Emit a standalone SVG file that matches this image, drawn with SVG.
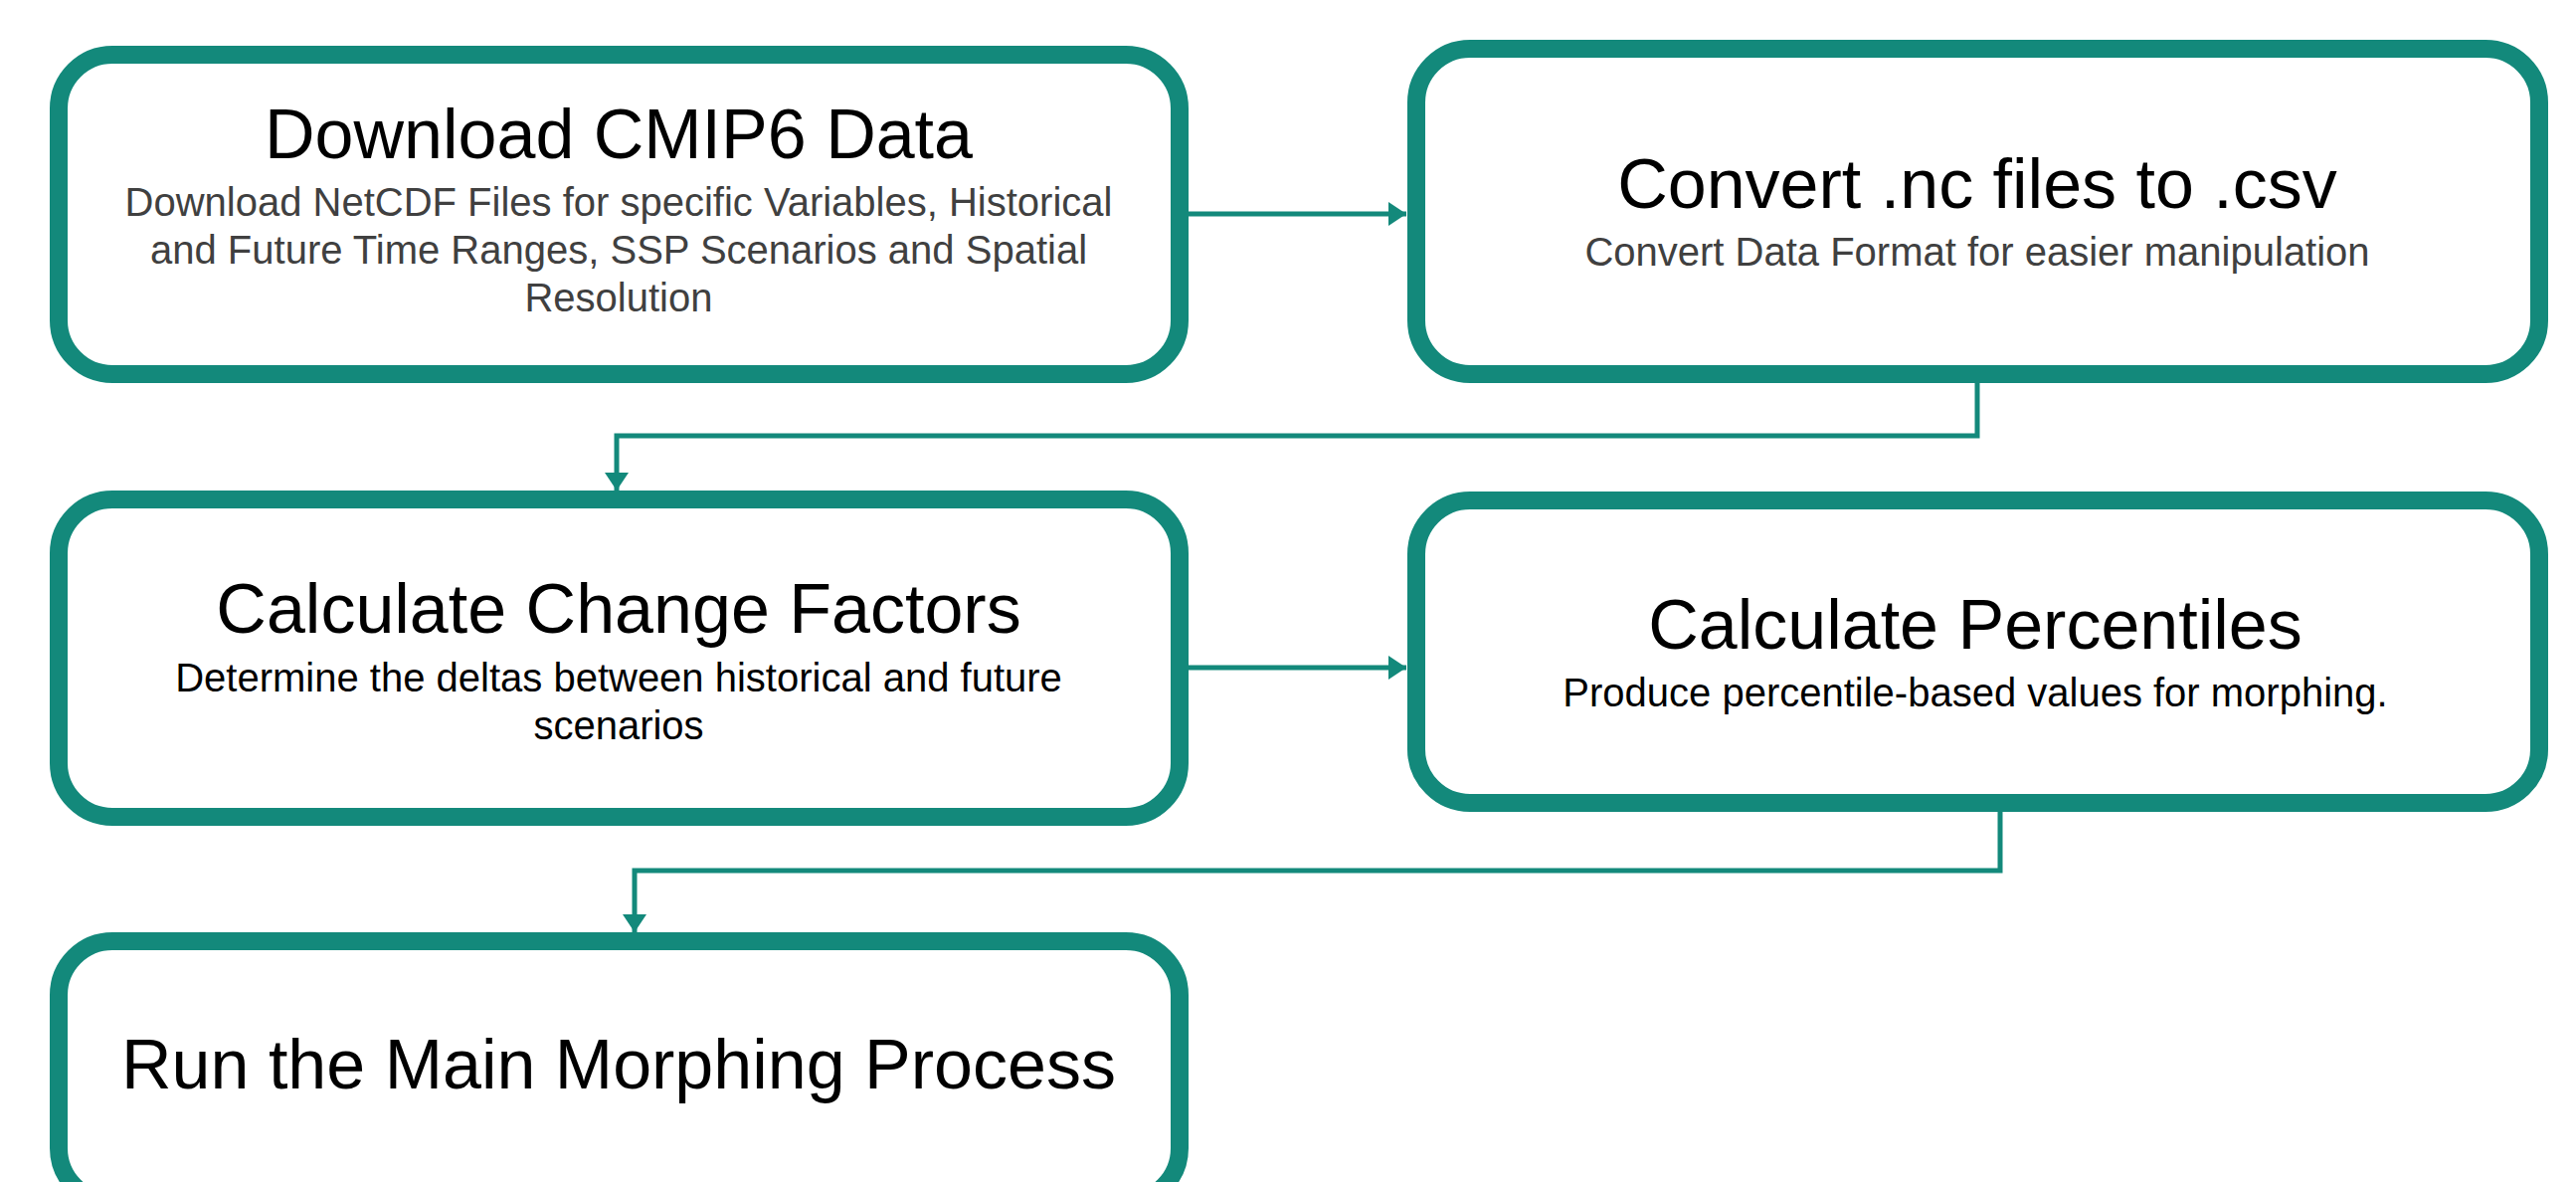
<svg xmlns="http://www.w3.org/2000/svg" width="2590" height="1188" viewBox="0 0 2590 1188">
  <style>
    .box { fill: #ffffff; stroke: #13897B; stroke-width: 18; }
    .title { font-family: "Liberation Sans", Arial, sans-serif; font-size: 70px; fill: #000000; text-anchor: middle; }
    .sub { font-family: "Liberation Sans", Arial, sans-serif; font-size: 40px; text-anchor: middle; }
    .grey { fill: #404040; }
    .black { fill: #000000; }
    .conn { fill: none; stroke: #13897B; stroke-width: 5; marker-end: url(#arrow); }
  </style>
  <defs>
    <marker id="arrow" viewBox="0 0 18 24" refX="18" refY="12" markerWidth="18" markerHeight="24" markerUnits="userSpaceOnUse" orient="auto">
      <path d="M0,0 L18,12 L0,24 Z" fill="#13897B"/>
    </marker>
  </defs>
  <rect width="2590" height="1188" fill="#ffffff"/>

  <g id="connectors">
    <path class="conn" d="M1195,215 L1414,215"/>
    <path class="conn" d="M1988,385 L1988,438 L620,438 L620,493"/>
    <path class="conn" d="M1195,671 L1414,671"/>
    <path class="conn" d="M2011,816 L2011,875 L638,875 L638,937"/>
  </g>

  <g id="node-download">
    <rect class="box" x="59" y="55" width="1127" height="321" rx="54" ry="54"/>
    <text class="title" x="622" y="159">Download CMIP6 Data</text>
    <text class="sub grey" x="622" y="217">Download NetCDF Files for specific Variables, Historical</text>
    <text class="sub grey" x="622" y="265">and Future Time Ranges, SSP Scenarios and Spatial</text>
    <text class="sub grey" x="622" y="313">Resolution</text>
  </g>

  <g id="node-convert">
    <rect class="box" x="1424" y="49" width="1129" height="327" rx="54" ry="54"/>
    <text class="title" x="1988" y="209">Convert .nc files to .csv</text>
    <text class="sub grey" x="1988" y="267">Convert Data Format for easier manipulation</text>
  </g>

  <g id="node-change-factors">
    <rect class="box" x="59" y="502" width="1127" height="319" rx="54" ry="54"/>
    <text class="title" x="622" y="636">Calculate Change Factors</text>
    <text class="sub black" x="622" y="695">Determine the deltas between historical and future</text>
    <text class="sub black" x="622" y="743">scenarios</text>
  </g>

  <g id="node-percentiles">
    <rect class="box" x="1424" y="503" width="1129" height="304" rx="54" ry="54"/>
    <text class="title" x="1986" y="652">Calculate Percentiles</text>
    <text class="sub black" x="1986" y="710">Produce percentile-based values for morphing.</text>
  </g>

  <g id="node-morphing">
    <rect class="box" x="59" y="946" width="1127" height="262" rx="54" ry="54"/>
    <text class="title" x="622" y="1094">Run the Main Morphing Process</text>
  </g>
</svg>
